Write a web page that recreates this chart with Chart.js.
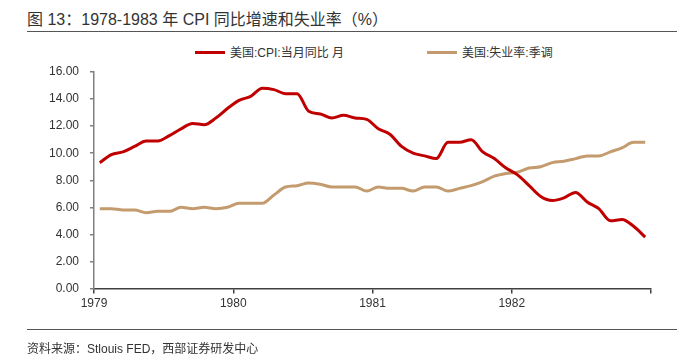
<!DOCTYPE html>
<html>
<head>
<meta charset="utf-8">
<script src="https://cdn.jsdelivr.net/npm/chart.js@4.4.1/dist/chart.umd.min.js"></script>
<style>
  body { margin: 0; background: #fff; }
  #wrap { position: relative; width: 677px; height: 358px; overflow: hidden;
          font-family: "Liberation Sans", Arial, "Noto Sans CJK SC", sans-serif; color: #333; }
  #chart { position: absolute; left: 0; top: 0; }
  .title { position: absolute; left: 27px; top: 6px; font-size: 16px; white-space: nowrap; color: #333; }
  .rule { position: absolute; left: 27px; right: 0; height: 0; border-top: 1.5px solid #555; }
  .legend { position: absolute; top: 43px; font-size: 12px; white-space: nowrap; }
  .legend span.swatch { display: inline-block; width: 30px; height: 3px; vertical-align: middle; margin-right: 5px; position: relative; top: -1px; }
  .source { position: absolute; left: 27px; top: 339px; font-size: 12px; white-space: nowrap; }
</style>
</head>
<body>
<div id="wrap">
  <div class="title">图 13：1978-1983 年 CPI 同比增速和失业率（%）</div>
  <div class="rule" style="top:31px"></div>
  <div class="legend" style="left:195px"><span class="swatch" style="background:#C00000"></span>美国:CPI:当月同比 月</div>
  <div class="legend" style="left:427px"><span class="swatch" style="background:#C49B6E"></span>美国:失业率:季调</div>
  <canvas id="chart" width="677" height="358"></canvas>
  <div class="rule" style="top:329px"></div>
  <div class="source">资料来源：Stlouis FED，西部证券研发中心</div>
</div>
<script>
// monthly data, Jan 1979 - Dec 1982
const years = [1979, 1980, 1981, 1982];
const cpiYoY = [
  9.3, 9.9, 10.1, 10.5, 10.9, 10.9, 11.3, 11.8, 12.2, 12.1, 12.6, 13.3,
  13.9, 14.2, 14.8, 14.7, 14.4, 14.4, 13.1, 12.9, 12.6, 12.8, 12.6, 12.5,
  11.8, 11.4, 10.5, 10.0, 9.8, 9.6, 10.8, 10.8, 11.0, 10.1, 9.6, 8.9,
  8.4, 7.6, 6.8, 6.5, 6.7, 7.1, 6.4, 5.9, 5.0, 5.1, 4.6, 3.8
];
const unemployment = [
  5.9, 5.9, 5.8, 5.8, 5.6, 5.7, 5.7, 6.0, 5.9, 6.0, 5.9, 6.0,
  6.3, 6.3, 6.3, 6.9, 7.5, 7.6, 7.8, 7.7, 7.5, 7.5, 7.5, 7.2,
  7.5, 7.4, 7.4, 7.2, 7.5, 7.5, 7.2, 7.4, 7.6, 7.9, 8.3, 8.5,
  8.6, 8.9, 9.0, 9.3, 9.4, 9.6, 9.8, 9.8, 10.1, 10.4, 10.8, 10.8
];
const yTicks = [0, 2, 4, 6, 8, 10, 12, 14, 16];

// month positions (mid-month) on a year axis
const monthX = [];
years.forEach(y => { for (let m = 0; m < 12; m++) monthX.push(y + (m + 0.5) / 12); });
const toPoints = vals => vals.map((v, i) => ({ x: monthX[i], y: v }));

const ctx = document.getElementById('chart').getContext('2d');
new Chart(ctx, {
  type: 'line',
  data: {
    datasets: [
      { label: '美国:CPI:当月同比 月', data: toPoints(cpiYoY), borderColor: '#C00000',
        backgroundColor: '#C00000', borderWidth: 3, pointRadius: 0, tension: 0.4, cubicInterpolationMode: 'monotone' },
      { label: '美国:失业率:季调', data: toPoints(unemployment), borderColor: '#C49B6E',
        backgroundColor: '#C49B6E', borderWidth: 3, pointRadius: 0, tension: 0.4, cubicInterpolationMode: 'monotone' }
    ]
  },
  options: {
    responsive: false,
    animation: false,
    layout: { padding: { top: 72, right: 26, left: 0, bottom: 0 } },
    plugins: { legend: { display: false }, tooltip: { enabled: false } },
    scales: {
      x: {
        type: 'linear',
        min: 1979,
        max: 1983,
        afterBuildTicks: scale => { scale.ticks = [1979, 1980, 1981, 1982, 1983].map(v => ({ value: v })); },
        afterFit: scale => { scale.height = 69.5; },
        ticks: {
          autoSkip: false,
          maxRotation: 0,
          padding: 3,
          color: '#333',
          font: { family: '"Liberation Sans", Arial', size: 12 },
          callback: v => (years.includes(v) ? String(v) : '')
        },
        grid: { drawOnChartArea: false, drawTicks: true, tickLength: 5, color: '#404040', lineWidth: 1.5 },
        border: { display: true, color: '#404040', width: 1.5 }
      },
      y: {
        min: 0,
        max: 16,
        afterBuildTicks: scale => { scale.ticks = yTicks.map(v => ({ value: v })); },
        afterFit: scale => { scale.width = 94; },
        ticks: {
          padding: 11,
          color: '#333',
          font: { family: '"Liberation Sans", Arial', size: 12 },
          callback: v => v.toFixed(2)
        },
        grid: { drawOnChartArea: false, drawTicks: true, tickLength: 4, color: '#808080', lineWidth: 1.5 },
        border: { display: true, color: '#808080', width: 1.5 }
      }
    }
  }
});
</script>
</body>
</html>
